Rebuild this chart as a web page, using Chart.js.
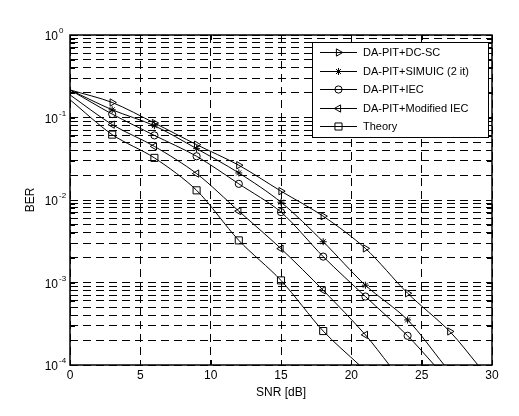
<!DOCTYPE html>
<html>
<head>
<meta charset="utf-8">
<script src="https://cdn.jsdelivr.net/npm/chart.js@4.4.0/dist/chart.umd.min.js"></script>
<style>
  body { margin: 0; background: #fff; }
  canvas { display: block; }
</style>
</head>
<body>
<canvas id="berChart" width="519" height="416"></canvas>
<script>
// values: markers every 3 dB, curves start at 0 dB and leave the plot at 1e-4
const snrMarks = [3, 6, 9, 12, 15, 18, 21, 24, 27];
const seriesNames = ["DA-PIT+DC-SC", "DA-PIT+SIMUIC (2 it)", "DA-PIT+IEC", "DA-PIT+Modified IEC", "Theory"];
const berDcSc = [0.152, 0.0857, 0.0469, 0.0264, 0.0128, 0.00637, 0.00259, 0.000741, 0.000255];
const berSimuic = [0.124, 0.0795, 0.0419, 0.0213, 0.0094, 0.00312, 0.000927, 0.000352];
const berIec = [0.110, 0.0607, 0.0339, 0.0157, 0.00713, 0.00206, 0.000676, 0.000226];
const berModIec = [0.082, 0.0447, 0.0209, 0.00733, 0.00257, 0.000805, 0.000232];
const berTheory = [0.062, 0.0324, 0.0131, 0.00324, 0.00106, 0.000258];
const berAtZero = [0.216, 0.216, 0.216, 0.188, 0.164];
const snrAtFloor = [29.0, 26.6, 25.9, 22.7, 20.57];
const xTicks = [0, 5, 10, 15, 20, 25, 30];
const yDecades = [1e-4, 1e-3, 1e-2, 1e-1, 1];

const FONT = '"Liberation Sans", Arial, sans-serif';
const allBer = [berDcSc, berSimuic, berIec, berModIec, berTheory];
const markers = [
  { style: "triangle", rot: 90, r: 4.2 },
  { style: "star", rot: 0, r: 3.5 },
  { style: "circle", rot: 0, r: 3.6 },
  { style: "triangle", rot: -90, r: 4.2 },
  { style: "rect", rot: 0, r: 5 }
];

// minor + major y ticks (1..9 per decade)
const yTicks = [];
yDecades.forEach(d => {
  if (d === 1) { yTicks.push(1); return; }
  for (let k = 1; k <= 9; k++) yTicks.push(+(k * d).toPrecision(3));
});

const datasets = allBer.map((vals, i) => {
  const pts = [{ x: 0, y: berAtZero[i] }];
  vals.forEach((v, j) => pts.push({ x: snrMarks[j], y: v }));
  pts.push({ x: snrAtFloor[i], y: 1e-4 });
  const last = pts.length - 1;
  return {
    label: seriesNames[i],
    data: pts,
    borderColor: "#000",
    borderWidth: 1,
    backgroundColor: "rgba(0,0,0,0)",
    pointBorderColor: "#000",
    pointBackgroundColor: "rgba(0,0,0,0)",
    pointBorderWidth: 1,
    pointStyle: markers[i].style,
    pointRotation: markers[i].rot,
    pointRadius: c => (c.dataIndex === 0 || c.dataIndex === last) ? 0 : markers[i].r,
    tension: 0.3,
    fill: false
  };
});

function drawMarker(ctx, m, x, y) {
  if (Chart.helpers && Chart.helpers.drawPoint) {
    Chart.helpers.drawPoint(ctx, { pointStyle: m.style, rotation: m.rot, radius: m.r, borderWidth: 1 }, x, y);
  }
}

const decorPlugin = {
  id: "decor",
  afterDraw(chart) {
    const { ctx, chartArea: a, scales } = chart;
    const xs = scales.x, ys = scales.y;
    ctx.save();
    ctx.fillStyle = "#000";
    ctx.strokeStyle = "#000";
    ctx.setLineDash([]);

    // inner ticks
    ctx.lineWidth = 1;
    ctx.beginPath();
    yTicks.forEach(v => {
      const py = Math.round(ys.getPixelForValue(v)) + 0.5;
      ctx.moveTo(a.left, py); ctx.lineTo(a.left + 5, py);
      ctx.moveTo(a.right, py); ctx.lineTo(a.right - 5, py);
    });
    xTicks.forEach(v => {
      const px = Math.round(xs.getPixelForValue(v)) + 0.5;
      ctx.moveTo(px, a.bottom); ctx.lineTo(px, a.bottom - 5);
      ctx.moveTo(px, a.top); ctx.lineTo(px, a.top + 5);
    });
    ctx.stroke();

    // box
    ctx.lineWidth = 1.5;
    ctx.strokeRect(a.left, a.top, a.right - a.left, a.bottom - a.top);

    // y decade labels 10^n
    yDecades.forEach(v => {
      const py = ys.getPixelForValue(v);
      ctx.font = "12px " + FONT;
      ctx.textAlign = "right";
      ctx.textBaseline = "middle";
      ctx.fillText("10", 58, py + 2);
      ctx.font = "8px " + FONT;
      ctx.textAlign = "left";
      ctx.fillText(String(Math.round(Math.log10(v))), 59, py - 4);
    });

    // axis titles
    ctx.font = "12px " + FONT;
    ctx.textAlign = "center";
    ctx.textBaseline = "middle";
    ctx.fillText("SNR [dB]", (a.left + a.right) / 2, 393);
    ctx.save();
    ctx.translate(31, (a.top + a.bottom) / 2);
    ctx.rotate(-Math.PI / 2);
    ctx.fillText("BER", 0, 0);
    ctx.restore();

    // legend
    const lx = 312, ly = 42, lw = 176, lh = 95;
    ctx.fillStyle = "#fff";
    ctx.fillRect(lx, ly, lw, lh);
    ctx.lineWidth = 1;
    ctx.strokeRect(lx + 0.5, ly + 0.5, lw, lh);
    ctx.font = "11px " + FONT;
    ctx.textAlign = "left";
    ctx.textBaseline = "middle";
    seriesNames.forEach((name, i) => {
      const ry = Math.round(52 + i * 18.6) + 0.5;
      ctx.strokeStyle = "#000";
      ctx.fillStyle = "rgba(0,0,0,0)";
      ctx.beginPath();
      ctx.moveTo(320, ry); ctx.lineTo(357, ry);
      ctx.stroke();
      drawMarker(ctx, markers[i], 338.5, ry);
      ctx.fillStyle = "#000";
      ctx.fillText(name, 363, ry);
    });
    ctx.restore();
  }
};

new Chart(document.getElementById("berChart"), {
  type: "line",
  data: { datasets },
  options: {
    responsive: false,
    animation: false,
    layout: { padding: { left: 0, top: 35, right: 27, bottom: 0 } },
    plugins: { legend: { display: false }, tooltip: { enabled: false } },
    scales: {
      x: {
        type: "linear",
        min: 0, max: 30,
        afterFit: s => { s.height = 51; },
        afterBuildTicks: s => { s.ticks = xTicks.map(v => ({ value: v })); },
        ticks: { color: "#000", font: { family: FONT, size: 12 }, padding: 3, maxRotation: 0 },
        grid: { color: "#000", lineWidth: 1, drawTicks: false },
        border: { display: false, dash: [8, 5] }
      },
      y: {
        type: "logarithmic",
        min: 1e-4, max: 1,
        afterFit: s => { s.width = 70; },
        afterBuildTicks: s => { s.ticks = yTicks.map(v => ({ value: v })); },
        ticks: { display: false },
        grid: { color: "#000", lineWidth: 1, drawTicks: false },
        border: { display: false, dash: [8, 5] }
      }
    }
  },
  plugins: [decorPlugin]
});
</script>
</body>
</html>
